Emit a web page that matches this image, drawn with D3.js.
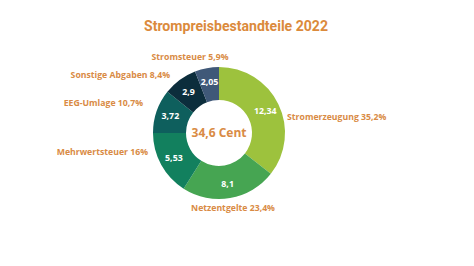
<!doctype html>
<html>
<head>
    <style>
        body {
            margin: 0;
            background: #fff;
            font-family: 'Open Sans', sans-serif;
        }
        svg {
            display: block;
        }
        text.title {
            font-family: 'Roboto', sans-serif;
            font-size: 14.5px;
            font-weight: 700;
            fill: #db8a3c;
        }
        text.label {
            font-size: 8.7px;
            font-weight: 700;
            fill: #d98b45;
        }
        text.value {
            font-size: 8.8px;
            font-weight: 700;
            fill: #fff;
        }
        text.center {
            font-size: 12px;
            font-weight: 700;
            fill: #d98b45;
        }
    </style>
    <script src="https://d3js.org/d3.v7.min.js"></script>
</head>
<body>
<svg width="474" height="266"></svg>
<script>
    const categories = ['Stromerzeugung', 'Netzentgelte', 'Mehrwertsteuer', 'EEG-Umlage', 'Sonstige Abgaben', 'Stromsteuer']
    const values = [12.34, 8.1, 5.53, 3.72, 2.9, 2.05]
    const valueLabels = ['12,34', '8,1', '5,53', '3,72', '2,9', '2,05']
    const shareLabels = ['35,2%', '23,4%', '16%', '10,7%', '8,4%', '5,9%']
    const colors = ['#9dc23d', '#46a552', '#12805e', '#0e5f5d', '#0c2d3c', '#3f5878']

    const svg = d3.select('svg')

    const cx = 219, cy = 133
    const outer = 66, inner = 33

    svg.append('text')
        .attr('class', 'title')
        .attr('x', 236)
        .attr('y', 31)
        .attr('text-anchor', 'middle')
        .attr('textLength', 184)
        .attr('lengthAdjust', 'spacingAndGlyphs')
        .text('Strompreisbestandteile 2022')

    const data = categories.map((c, i) => ({ name: c, value: values[i], vl: valueLabels[i], sl: shareLabels[i], color: colors[i] }))

    const pie = d3.pie().sort(null).value(d => d.value)
    const arcs = pie(data)

    const arc = d3.arc().innerRadius(inner).outerRadius(outer)
    const mid = d3.arc().innerRadius((inner + outer) / 2 + 2).outerRadius((inner + outer) / 2 + 2)

    const chart = svg.append('g')
        .attr('transform', `translate(${cx}, ${cy})`)

    chart.selectAll('path')
        .data(arcs)
        .enter()
        .append('path')
        .attr('d', arc)
        .attr('fill', d => d.data.color)

    chart.selectAll('text.value')
        .data(arcs)
        .enter()
        .append('text')
        .attr('class', 'value')
        .attr('x', d => mid.centroid(d)[0])
        .attr('y', d => mid.centroid(d)[1])
        .attr('dy', '0.35em')
        .attr('text-anchor', 'middle')
        .text(d => d.data.vl)

    chart.append('text')
        .attr('class', 'center')
        .attr('x', 0)
        .attr('y', 0)
        .attr('dy', '0.35em')
        .attr('text-anchor', 'middle')
        .text('34,6 Cent')

    // outside label positions, relative to the centre
    const labelPos = [
        { x: 68, y: -16, anchor: 'start' },
        { x: 14, y: 75, anchor: 'middle' },
        { x: -71, y: 19, anchor: 'end' },
        { x: -76, y: -30, anchor: 'end' },
        { x: -49, y: -58, anchor: 'end' },
        { x: -29, y: -76, anchor: 'middle' }
    ]

    chart.selectAll('text.label')
        .data(arcs)
        .enter()
        .append('text')
        .attr('class', 'label')
        .attr('x', (d, i) => labelPos[i].x)
        .attr('y', (d, i) => labelPos[i].y)
        .attr('dy', '0.35em')
        .attr('text-anchor', (d, i) => labelPos[i].anchor)
        .text(d => `${d.data.name} ${d.data.sl}`)
</script>
</body>
</html>
